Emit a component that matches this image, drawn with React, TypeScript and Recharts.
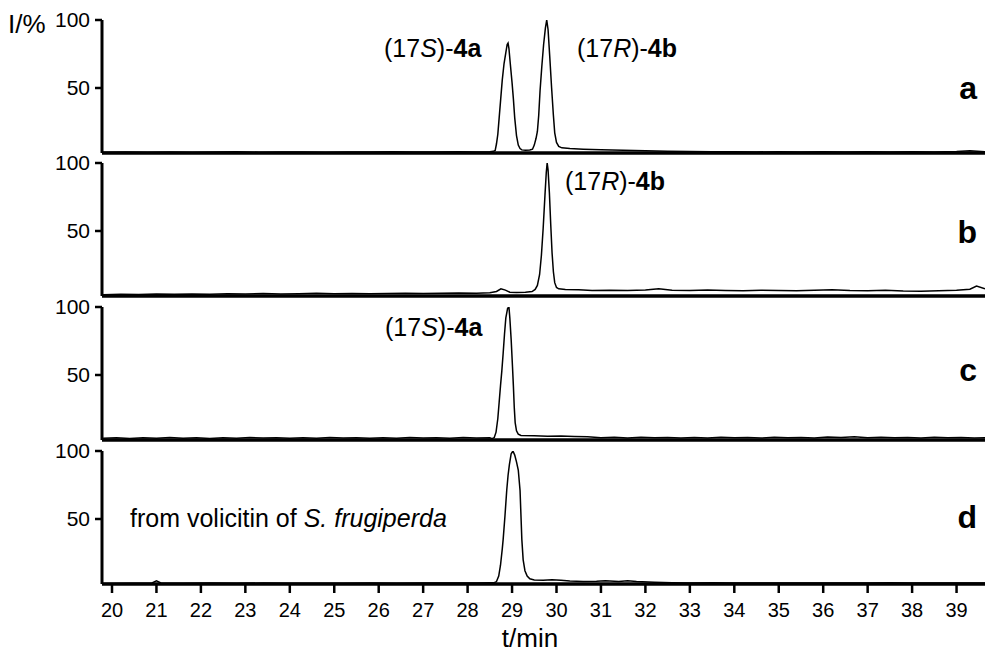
import React from 'react';
import { LineChart, Line, XAxis, YAxis } from 'recharts';

// retention time (min) vs relative intensity (%)
const traceA: [number, number][] = [
  [19.8, 2.8], [20.3, 2.9], [20.8, 2.7], [21.3, 3.0], [21.8, 2.8], [22.3, 2.9], [22.8, 3.1], [23.3, 2.8],
  [23.8, 2.9], [24.3, 3.0], [24.8, 2.8], [25.3, 3.0], [25.8, 2.9], [26.3, 3.1], [26.8, 2.9], [27.3, 3.0],
  [27.8, 3.1], [28.2, 3.0], [28.5, 3.2], [28.58, 3.4], [28.62, 4], [28.65, 9], [28.68, 16], [28.71, 28],
  [28.745, 42], [28.78, 56], [28.82, 68], [28.86, 76], [28.89, 82], [28.91, 83], [28.93, 79], [28.96, 68],
  [29.0, 54], [29.03, 42], [29.06, 28], [29.1, 15], [29.14, 8], [29.18, 5.5], [29.22, 4.5], [29.3, 4.2],
  [29.4, 4.4], [29.46, 5], [29.5, 8], [29.54, 13], [29.57, 18], [29.6, 30], [29.63, 48], [29.67, 66],
  [29.71, 82], [29.75, 94], [29.78, 100], [29.81, 93], [29.85, 72], [29.89, 50], [29.93, 30], [29.96, 17],
  [30.0, 10], [30.05, 7], [30.12, 6], [30.3, 5.5], [30.6, 5.0], [31.0, 4.6], [31.5, 4.2], [32.0, 3.8],
  [32.5, 3.4], [33.0, 3.3], [33.5, 3.1], [34.0, 3.2], [34.5, 3.0], [35.0, 3.1], [35.5, 3.0], [36.0, 3.2],
  [36.5, 3.0], [37.0, 3.1], [37.5, 3.0], [38.0, 3.2], [38.5, 3.0], [39.0, 3.3], [39.3, 3.8], [39.64, 3.2],
];

const traceB: [number, number][] = [
  [19.8, 3.2], [20.2, 3.5], [20.6, 3.3], [21.0, 3.6], [21.4, 3.4], [21.8, 3.7], [22.2, 3.5], [22.6, 3.8],
  [23.0, 3.6], [23.4, 4.0], [23.8, 3.7], [24.2, 3.9], [24.6, 4.2], [25.0, 3.9], [25.4, 4.1], [25.8, 3.8],
  [26.2, 4.0], [26.6, 4.3], [27.0, 4.0], [27.4, 4.2], [27.8, 4.4], [28.2, 4.3], [28.5, 4.6], [28.65, 5.5],
  [28.75, 7.5], [28.85, 6.5], [28.95, 5.0], [29.1, 4.8], [29.3, 5.0], [29.45, 5.5], [29.52, 7], [29.57, 10],
  [29.62, 18], [29.66, 32], [29.7, 52], [29.74, 76], [29.77, 93], [29.79, 100], [29.81, 95], [29.84, 78],
  [29.87, 55], [29.9, 34], [29.93, 20], [29.96, 12], [30.0, 8.5], [30.05, 7.5], [30.2, 7.0], [30.5, 6.8],
  [30.8, 6.3], [31.2, 6.5], [31.6, 6.2], [32.0, 6.6], [32.3, 7.5], [32.6, 6.4], [33.0, 6.2], [33.4, 6.6],
  [33.8, 6.3], [34.2, 6.0], [34.6, 6.5], [35.0, 6.2], [35.4, 6.0], [35.8, 6.4], [36.2, 6.8], [36.6, 6.3],
  [37.0, 6.1], [37.4, 6.5], [37.8, 5.9], [38.2, 5.7], [38.6, 6.1], [39.0, 6.4], [39.3, 7.2], [39.45, 9.5],
  [39.64, 7.5],
];

const traceC: [number, number][] = [
  [19.8, 3.4], [20.1, 3.8], [20.4, 3.3], [20.7, 3.9], [21.0, 3.5], [21.3, 4.0], [21.6, 3.4], [21.9, 3.8],
  [22.2, 3.3], [22.5, 3.9], [22.8, 3.5], [23.1, 4.1], [23.4, 3.6], [23.7, 3.9], [24.0, 3.4], [24.3, 3.8],
  [24.6, 3.5], [24.9, 4.0], [25.2, 3.6], [25.5, 3.9], [25.8, 3.4], [26.1, 3.8], [26.4, 3.5], [26.7, 4.0],
  [27.0, 3.6], [27.3, 3.9], [27.6, 3.5], [27.9, 4.1], [28.2, 3.6], [28.5, 3.8], [28.55, 3.2], [28.6, 4],
  [28.64, 8], [28.68, 18], [28.71, 30], [28.74, 42], [28.77, 53], [28.8, 66], [28.83, 80], [28.86, 92],
  [28.9, 99], [28.93, 100], [28.95, 92], [28.98, 76], [29.01, 56], [29.03, 42], [29.05, 26], [29.07, 15],
  [29.1, 9], [29.14, 6.5], [29.2, 5.5], [29.5, 5.3], [29.8, 5.0], [30.1, 5.2], [30.4, 4.8], [30.7, 4.6],
  [31.0, 3.9], [31.3, 4.3], [31.6, 3.7], [31.9, 4.2], [32.2, 3.8], [32.5, 4.1], [32.8, 3.6], [33.1, 4.0],
  [33.4, 3.7], [33.7, 4.2], [34.0, 3.8], [34.3, 4.1], [34.6, 3.6], [34.9, 4.3], [35.2, 3.8], [35.5, 4.0],
  [35.8, 3.7], [36.1, 4.4], [36.4, 4.0], [36.7, 4.5], [37.0, 3.9], [37.3, 4.3], [37.6, 3.8], [37.9, 4.1],
  [38.2, 3.7], [38.5, 4.2], [38.8, 3.8], [39.1, 4.0], [39.4, 3.7], [39.64, 3.9],
];

const traceD: [number, number][] = [
  [19.8, 2.6], [20.4, 2.8], [20.9, 2.9], [21.0, 4.5], [21.1, 2.9], [21.6, 2.7], [22.2, 2.9], [22.8, 2.7],
  [23.4, 2.9], [24.0, 2.7], [24.6, 2.8], [25.2, 2.7], [25.8, 2.9], [26.4, 2.8], [27.0, 2.9], [27.6, 3.0],
  [28.2, 3.0], [28.5, 3.2], [28.6, 3.2], [28.65, 4], [28.7, 8], [28.74, 16], [28.78, 28], [28.8, 35],
  [28.84, 52], [28.88, 71], [28.91, 82], [28.94, 90], [28.98, 98], [29.02, 100], [29.06, 97], [29.1, 92],
  [29.14, 86], [29.18, 71], [29.22, 35], [29.25, 20], [29.29, 12], [29.34, 8], [29.4, 6], [29.5, 5.2],
  [29.7, 5.0], [29.9, 5.3], [30.1, 5.0], [30.3, 4.4], [30.6, 4.0], [30.9, 4.2], [31.1, 4.5], [31.4, 4.1],
  [31.6, 4.6], [31.8, 4.0], [32.2, 3.5], [32.6, 3.2], [33.0, 3.0], [33.5, 3.1], [34.0, 2.9], [34.5, 3.0],
  [35.0, 2.9], [35.5, 3.0], [36.0, 2.9], [36.5, 3.0], [37.0, 2.9], [37.5, 3.1], [38.0, 2.9], [38.5, 3.0],
  [39.0, 2.9], [39.64, 3.0],
];

const timeTicks = [20, 21, 22, 23, 24, 25, 26, 27, 28, 29, 30, 31, 32, 33, 34, 35, 36, 37, 38, 39];
const intensityTicks = [50, 100];
const panelLetters = ['a', 'b', 'c', 'd'];

const FONT = '"Liberation Sans", Arial, Helvetica, sans-serif';
const X_DOMAIN: [number, number] = [19.775, 39.64];
const Y_DOMAIN: [number, number] = [2.2, 100];

interface PanelProps { trace: [number, number][]; top: number; bottom?: boolean; }

function Panel({ trace, top, bottom }: PanelProps) {
  const data = trace.map(([t, v]) => ({ t, v }));
  const height = bottom ? 225 : 160;
  return (
    <div style={{ position: 'absolute', left: 0, top }}>
      <LineChart width={985} height={height} data={data}
        margin={{ top: 20, right: 0, left: 0, bottom: bottom ? 32 : 2 }}>
        <XAxis dataKey="t" type="number" domain={X_DOMAIN} allowDataOverflow
          ticks={timeTicks} interval={0} height={bottom ? 40 : 5}
          axisLine={{ stroke: '#000', strokeWidth: 3.5 }}
          tickLine={bottom ? { stroke: '#000', strokeWidth: 2.5 } : false}
          tick={bottom ? { fill: '#000', fontSize: 20, fontFamily: FONT } : () => <g />}
          tickSize={9} tickMargin={10} />
        <YAxis type="number" domain={Y_DOMAIN} allowDataOverflow ticks={intensityTicks} width={102}
          axisLine={{ stroke: '#000', strokeWidth: 3 }}
          tickLine={{ stroke: '#000', strokeWidth: 2.5 }}
          tick={{ fill: '#000', fontSize: 21, fontFamily: FONT }}
          tickSize={7} tickMargin={5} />
        <Line type="linear" dataKey="v" stroke="#000" strokeWidth={1.5} dot={false} isAnimationActive={false} />
      </LineChart>
    </div>
  );
}

const Compound = ({ x, y, tag, id }: { x: number; y: number; tag: string; id: string }) => (
  <text x={x} y={y} fontSize={25}>
    <tspan>(17</tspan><tspan fontStyle="italic">{tag}</tspan><tspan>)-</tspan>
    <tspan fontWeight="bold">{id}</tspan>
  </text>
);

export default function App() {
  const tops = [0, 143, 287, 431];
  const traces = [traceA, traceB, traceC, traceD];
  const letterBaselines = [99, 243, 381, 528];
  return (
    <div style={{ position: 'absolute', left: 0, top: 0, width: 985, height: 656, background: '#fff', fontFamily: FONT }}>
      {traces.map((tr, i) => (
        <Panel key={i} trace={tr} top={tops[i]} bottom={i === 3} />
      ))}
      <svg width={985} height={656} style={{ position: 'absolute', left: 0, top: 0, pointerEvents: 'none' }}
        fontFamily={FONT} fill="#000">
        <text x={8} y={33} fontSize={26}>I/%</text>
        <Compound x={384} y={57} tag="S" id="4a" />
        <Compound x={577} y={57} tag="R" id="4b" />
        <Compound x={565} y={190} tag="R" id="4b" />
        <Compound x={385} y={336} tag="S" id="4a" />
        <text x={130} y={527} fontSize={25}>
          <tspan>from volicitin of </tspan><tspan fontStyle="italic">S. frugiperda</tspan>
        </text>
        {panelLetters.map((l, i) => (
          <text key={l} x={977} y={letterBaselines[i]} fontSize={32} fontWeight="bold" textAnchor="end">{l}</text>
        ))}
        <text x={530} y={647} fontSize={26} textAnchor="middle">t/min</text>
      </svg>
    </div>
  );
}
